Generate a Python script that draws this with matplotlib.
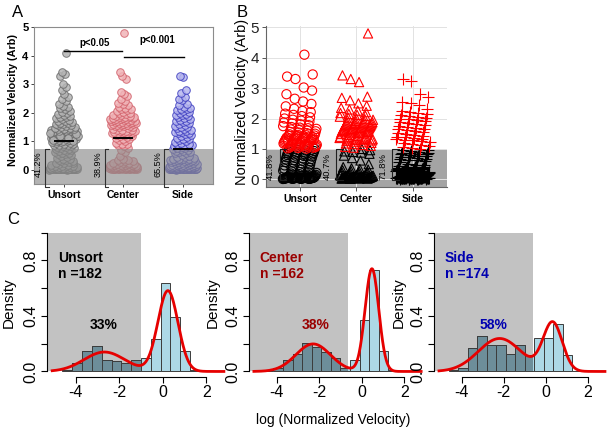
import numpy as np
import matplotlib
matplotlib.use("Agg")
import matplotlib.pyplot as plt
from matplotlib import font_manager
from matplotlib.patches import Rectangle

names = {f.name for f in font_manager.fontManager.ttflist}
NARROW = 'Liberation Sans Narrow' if 'Liberation Sans Narrow' in names else 'Liberation Sans'
plt.rcParams['font.family'] = ['Liberation Sans', 'DejaVu Sans']

# ---- data: normalized velocity per cell ----
groups = ['Unsort', 'Center', 'Side']

unsort = [0.012,
          0.016, 0.018, 0.020, 0.022, 0.024,
          0.025, 0.026, 0.027, 0.028, 0.029, 0.030, 0.031, 0.032, 0.033, 0.035, 0.036, 0.038,
          0.039, 0.040, 0.041, 0.042, 0.043, 0.044, 0.045, 0.047, 0.049, 0.051, 0.052, 0.054, 0.056, 0.058, 0.060,
          0.062, 0.066, 0.070, 0.075, 0.080, 0.086, 0.092,
          0.098, 0.105, 0.115, 0.125, 0.135, 0.145,
          0.155, 0.170, 0.190, 0.210, 0.230,
          0.24, 0.26, 0.28, 0.30, 0.32, 0.34, 0.36,
          0.38, 0.40, 0.43, 0.46, 0.49, 0.52, 0.55, 0.57,
          0.59, 0.61, 0.63, 0.65, 0.67, 0.69, 0.71, 0.73, 0.75, 0.77,
          0.78, 0.80, 0.82, 0.83, 0.85, 0.86, 0.87, 0.88, 0.90,
          0.91, 0.93, 0.95, 0.97, 0.99, 1.00, 1.01, 1.03, 1.05, 1.06,
          1.07, 1.08, 1.09, 1.10, 1.11, 1.12, 1.13, 1.14, 1.15, 1.16,
          1.17, 1.18, 1.19, 1.20, 1.21, 1.22, 1.23, 1.24, 1.25, 1.26,
          1.27, 1.28, 1.29, 1.30, 1.31, 1.32, 1.33, 1.34, 1.35, 1.36,
          1.37, 1.38, 1.39, 1.40, 1.41, 1.02, 1.04, 1.12, 1.18, 1.25, 1.30, 1.36,
          1.42, 1.43, 1.44, 1.45, 1.46, 1.48, 1.50, 1.52, 1.54, 1.56,
          1.58, 1.60, 1.62, 1.64, 1.66, 1.68, 1.70, 1.72, 1.75, 1.78,
          1.81, 1.84, 1.87, 1.90, 1.93, 1.96, 2.00, 2.04, 2.08, 2.12, 2.16, 2.21,
          2.25, 2.32, 2.40, 2.48, 2.56, 2.65, 2.80, 2.92, 3.02, 3.30, 3.38, 3.45,
          4.10]

center = [0.018, 0.023,
          0.026, 0.028, 0.030, 0.032, 0.034, 0.037,
          0.040, 0.042, 0.044, 0.046, 0.048, 0.051, 0.054, 0.057, 0.059,
          0.062, 0.064, 0.066, 0.068, 0.070, 0.072, 0.074, 0.076, 0.078, 0.080, 0.083, 0.086, 0.089, 0.091, 0.094,
          0.097, 0.100, 0.103, 0.107, 0.111, 0.115, 0.119, 0.123, 0.127, 0.132, 0.137, 0.142, 0.147,
          0.152, 0.160, 0.168, 0.176, 0.184, 0.193, 0.202, 0.211, 0.220, 0.230,
          0.24, 0.26, 0.28, 0.30, 0.32, 0.34, 0.36,
          0.40, 0.50,
          0.62, 0.70, 0.78, 0.84, 0.88, 0.90,
          0.92, 0.96, 1.00, 1.04, 1.07, 1.10, 1.13, 1.16, 1.18, 1.20,
          1.22, 1.24, 1.26, 1.28, 1.29, 1.30, 1.31, 1.32, 1.33, 1.34,
          1.35, 1.36, 1.37, 1.38, 1.39, 1.40, 1.41,
          1.43, 1.46, 1.49, 1.51, 1.53, 1.54, 1.55, 1.56, 1.57, 1.58,
          1.59, 1.60, 1.61, 1.62, 1.63, 1.64, 1.65, 1.66, 1.67, 1.68,
          1.69, 1.70, 1.71, 1.72, 1.73, 1.74, 1.75, 1.76, 1.77, 1.78,
          1.79, 1.80, 1.81, 1.82, 1.83, 1.84, 1.85, 1.86, 1.87, 1.88,
          1.90, 1.92, 1.94, 1.96, 1.98, 2.00, 2.03, 2.06, 2.09, 2.12,
          2.15, 2.18, 2.21,
          2.26, 2.30, 2.35, 2.42, 2.50, 2.60, 2.68, 2.72, 3.20, 3.30, 3.42,
          4.80]

side = [0.013,
        0.018, 0.022,
        0.025, 0.026, 0.027, 0.028, 0.029, 0.030, 0.031, 0.032, 0.033, 0.034, 0.035, 0.036, 0.038,
        0.039, 0.040, 0.041, 0.042, 0.043, 0.044, 0.045, 0.046, 0.047, 0.048,
        0.049, 0.050, 0.051, 0.052, 0.053, 0.054, 0.055, 0.057, 0.058, 0.060,
        0.062, 0.064, 0.066, 0.068, 0.070, 0.072, 0.074, 0.076, 0.078, 0.080, 0.083, 0.086, 0.089, 0.091, 0.094,
        0.097, 0.100, 0.103, 0.106, 0.109, 0.112, 0.115, 0.118, 0.122, 0.126, 0.130, 0.134, 0.138, 0.142, 0.147,
        0.152, 0.160, 0.168, 0.176, 0.184, 0.193, 0.202, 0.211, 0.220, 0.230,
        0.24, 0.25, 0.26, 0.27, 0.28, 0.29, 0.30, 0.31, 0.32, 0.33, 0.34, 0.35, 0.355, 0.36, 0.365,
        0.37, 0.38, 0.39, 0.40, 0.42, 0.44, 0.46, 0.48, 0.51,
        0.58, 0.60, 0.62, 0.64, 0.66, 0.68, 0.70, 0.72, 0.74, 0.76,
        0.78, 0.80, 0.82, 0.83, 0.84, 0.86, 0.87, 0.88, 0.90,
        0.92, 0.95, 0.98, 1.01, 1.04, 1.07, 1.10, 1.13, 1.16, 1.19,
        1.22, 1.25, 1.28, 1.30, 1.32, 1.34, 1.36, 1.38, 1.40,
        1.43, 1.46, 1.49, 1.52, 1.55, 1.58, 1.61, 1.64, 1.67, 1.70,
        1.73, 1.76, 1.79, 1.82, 1.85, 1.88, 1.91, 1.94, 1.97, 2.00,
        2.03, 2.06, 2.09, 2.12, 2.15, 2.18, 2.21,
        2.26, 2.30, 2.45, 2.50, 2.55, 2.70, 2.80, 3.25, 3.30]

group_means = [1.0, 1.12, 0.73]
pct_a = ['41.2%', '38.9%', '65.5%']
pct_b = ['41.8%', '40.7%', '71.8%']
pct_c = ['33%', '38%', '58%']
cut_a = 0.75
cut_b = 1.0
cut_c = [-1.0, -0.63, -0.62]
pvals = ['p<0.05', 'p<0.001']

data = [np.array(unsort), np.array(center), np.array(side)]

fig = plt.figure(figsize=(6.1, 4.33), dpi=100)


def golden(n, step=0.6180339887, phase=0.0):
    return (np.arange(n) * step + phase) % 1.0


def swarm(v, width, phase):
    order = np.argsort(v)
    near = np.array([(np.abs(v - x) < 0.12).sum() for x in v])
    amp = width * np.minimum(1.0, np.sqrt(near / 25.0))
    off = np.empty(len(v))
    off[order] = 2 * golden(len(v), phase=phase) - 1
    return off * amp


def mixture_fit(lv, iters=400):
    # two component normal mixture, plain EM
    w = np.array([0.4, 0.6])
    mu = np.array([-2.5, 0.3])
    sd = np.array([1.0, 0.4])
    for _ in range(iters):
        pdf = w * np.exp(-0.5 * ((lv[:, None] - mu) / sd) ** 2) / (sd * np.sqrt(2 * np.pi))
        r = pdf / pdf.sum(1, keepdims=True)
        nk = r.sum(0)
        w = nk / len(lv)
        mu = (r * lv[:, None]).sum(0) / nk
        sd = np.sqrt((r * (lv[:, None] - mu) ** 2).sum(0) / nk)
    return w, mu, sd


# ---------------- panel A ----------------
axA = fig.add_axes([0.0557, 0.5744, 0.2927, 0.3626])
axA.set_xlim(0.5, 3.5)
axA.set_ylim(-0.5, 5.0)
faces = ['#b4b4b4', '#f0b4b8', '#b6b6ee']
edges = ['#6a6a6a', '#d2606a', '#3c3cc0']
for i, v in enumerate(data):
    x = i + 1 + swarm(v, 0.24, 0.13 * i)
    axA.scatter(x, v, s=30, facecolor=faces[i], edgecolor=edges[i], linewidth=0.7,
                alpha=0.85, zorder=2)
    axA.plot([i + 1 - 0.15, i + 1 + 0.15], [group_means[i]] * 2, color='black', lw=1.4, zorder=5)
    # bracket + percentage
    bx = i + 1 - 0.31
    axA.plot([bx + 0.06, bx, bx, bx + 0.06], [cut_a, cut_a, -0.6, -0.6], color='#303030',
             lw=0.8, zorder=5, clip_on=False)
    axA.text(i + 1 - 0.42, 0.22, pct_a[i], rotation=90, ha='center', va='center',
             fontsize=6.5, zorder=6)
axA.add_patch(Rectangle((0.5, -0.5), 3.0, cut_a + 0.5, color='#8a8a8a', alpha=0.65,
                        lw=0, zorder=4))
axA.plot([1, 1.98], [4.17, 4.17], color='black', lw=1.0)
axA.plot([2.02, 3.02], [3.97, 3.97], color='black', lw=1.0)
axA.text(1.52, 4.45, pvals[0], ha='center', va='center', fontsize=7, fontweight='bold')
axA.text(2.58, 4.55, pvals[1], ha='center', va='center', fontsize=7, fontweight='bold')
axA.set_xticks([1, 2, 3])
axA.set_xticklabels(groups, fontsize=7.5, fontweight='bold')
axA.set_yticks(range(6))
axA.set_yticklabels([str(t) for t in range(6)], fontsize=8, fontweight='bold')
axA.tick_params(length=2.5, width=0.7, pad=1.5, color='#444444')
for s in axA.spines.values():
    s.set_color('#8c8c8c')
    s.set_linewidth(0.8)
fig.text(0.022, 0.77, 'Normalized Velocity (Arb)', rotation=90, ha='center', va='center',
         fontsize=7.8, fontweight='bold')

# ---------------- panel B ----------------
axB = fig.add_axes([0.4361, 0.569, 0.2961, 0.3707])
axB.set_xlim(0.4, 3.6)
axB.set_ylim(-0.24, 5.04)
axB.set_axisbelow(True)
axB.grid(True, color='#e2e2e2', lw=0.7)
axB.add_patch(Rectangle((0.4, -0.24), 3.2, cut_b + 0.24, color='#a4a4a4', lw=0, zorder=0.4))
markers = ['o', '^', '+']
for i, v in enumerate(data):
    x = i + 1 + 0.3 * (2 * golden(len(v), step=0.7548776662, phase=0.31 * i) - 1)
    col = np.where(v > cut_b, '#ff0000', '#000000')
    if markers[i] == '+':
        axB.scatter(x, v, s=75, marker='+', c=col, linewidth=0.8, zorder=2)
    else:
        axB.scatter(x, v, s=44, marker=markers[i], facecolor='none', edgecolor=col,
                    linewidth=0.8, zorder=2)
    bx = i + 1 - 0.36
    axB.plot([bx + 0.12, bx, bx, bx + 0.12], [cut_b, cut_b, -0.03, -0.03], color='#202020',
             lw=0.8, zorder=3)
    axB.text(i + 1 - 0.52, 0.42, pct_b[i], rotation=90, ha='center', va='center',
             fontsize=6.8, zorder=4)
axB.set_xticks([1, 2, 3])
axB.set_xticklabels(groups, fontsize=7.5, fontweight='bold')
axB.set_yticks(range(6))
axB.set_yticklabels([str(t) for t in range(6)], fontsize=11, color='#222222')
axB.tick_params(length=3, width=0.7, pad=2, color='#555555')
axB.spines[['top', 'right']].set_visible(False)
for s in ['left', 'bottom']:
    axB.spines[s].set_color('#666666')
fig.text(0.397, 0.765, 'Normalized Velocity (Arb)', rotation=90, ha='center', va='center',
         fontsize=10.5, family=NARROW)

# ---------------- panel C ----------------
edges_c = np.arange(-4.6, 1.71, 0.45)
c_left = [0.0766, 0.4075, 0.711]
c_width = [0.309, 0.301, 0.2987]
label_cols = ['#000000', '#9a0000', '#0000b0']
pct_x = [-2.7, -2.17, -2.47]
density_x = [0.015, 0.348, 0.654]
for i, v in enumerate(data):
    ax = fig.add_axes([c_left[i], 0.1293, c_width[i], 0.3464])
    ax.set_xlim(-5.32, 3.32)
    ax.set_ylim(-0.04, 1.04)
    lv = np.log(v)
    bg = Rectangle((-5.32, 0), 5.32 + cut_c[i], 1.0, facecolor='#c2c2c2', lw=0, zorder=0.5)
    ax.add_patch(bg)
    ax.hist(lv, bins=edges_c, density=True, color='#add8e6', edgecolor='#3c3c3c', lw=0.7,
            zorder=1)
    _, _, dark = ax.hist(lv, bins=edges_c, density=True, color='#6d8e9a', edgecolor='#3c3c3c',
                         lw=0.7, zorder=1.5)
    for p in dark:
        p.set_clip_path(bg)
    # fitted two-component normal mixture
    w, mu, sd = mixture_fit(lv)
    gx = np.linspace(-5.07, 2.8, 400)
    gy = (w * np.exp(-0.5 * ((gx[:, None] - mu) / sd) ** 2) / (sd * np.sqrt(2 * np.pi))).sum(1)
    ax.plot(gx, gy, color='#e60000', lw=2.0, zorder=3)
    n = len(lv)
    ax.text(-4.8, 0.82, groups[i], color=label_cols[i], fontsize=10, fontweight='bold',
            va='center', ha='left')
    ax.text(-4.8, 0.70, 'n =%d' % n, color=label_cols[i], fontsize=10, fontweight='bold',
            va='center', ha='left')
    ax.text(pct_x[i], 0.335, pct_c[i], color=label_cols[i], fontsize=10,
            fontweight='bold', ha='center', va='center')
    ax.spines[['top', 'right']].set_visible(False)
    ax.spines['left'].set_bounds(0, 1.0)
    ax.spines['bottom'].set_bounds(-4, 2)
    ax.set_xticks([-4, -2, 0, 2])
    ax.set_xticklabels(['-4', '-2', '0', '2'], fontsize=11.5, family=NARROW)
    ax.set_yticks([0, 0.2, 0.4, 0.6, 0.8, 1.0])
    ax.set_yticklabels(['0.0', '', '0.4', '', '0.8', ''], rotation=90, va='center',
                       fontsize=11.5, family=NARROW)
    ax.tick_params(length=4, width=0.8, pad=2)
    fig.text(density_x[i], 0.302, 'Density', rotation=90, ha='center', va='center',
             fontsize=11, family=NARROW)

fig.text(0.547, 0.03, 'log (Normalized Velocity)', ha='center', va='center', fontsize=10,
         family=NARROW)

fig.text(0.028, 0.97, 'A', fontsize=12, ha='center', va='center')
fig.text(0.397, 0.972, 'B', fontsize=12, ha='center', va='center')
fig.text(0.021, 0.492, 'C', fontsize=12, ha='center', va='center')

fig.savefig('out.png', dpi=100)
